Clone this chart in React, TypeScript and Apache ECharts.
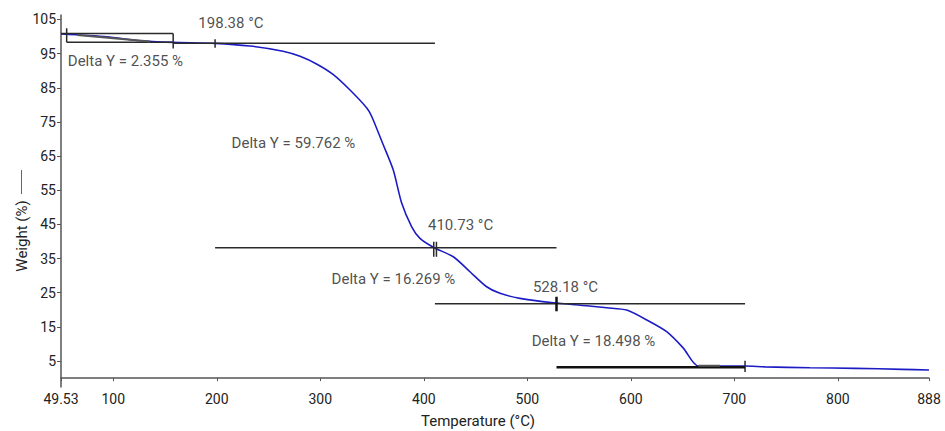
import React, { useEffect, useRef } from "react";
import * as echarts from "echarts";

// TGA curve: temperature (°C) and weight (%)
const temps = [
  49.53, 93.7, 125.8, 157.7, 198.3, 232.1, 264.0, 280.4, 296.8, 312.3, 328.7,
  345.1, 349.7, 360.9, 370.5, 378.6, 388.3, 396.3, 410.1, 428.5, 444.6, 460.7,
  473.6, 492.9, 525.1, 557.3, 576.7, 596.0, 618.5, 634.6, 650.7, 665.2, 710.3,
  729.6, 773.1, 816.6, 862.0, 888.0,
];
const weights = [
  100.73, 99.94, 98.76, 98.3, 98.0, 97.21, 95.7, 94.2, 91.9, 88.9, 84.33,
  79.0, 76.6, 68.23, 60.91, 51.25, 44.31, 40.92, 38.17, 35.53, 31.14, 26.75,
  24.82, 23.35, 22.07, 21.19, 20.6, 19.92, 16.5, 13.58, 8.78, 3.54, 3.54,
  3.3, 3.04, 2.86, 2.57, 2.37,
];

// axis ticks
const xTicks = [49.53, 100, 200, 300, 400, 500, 600, 700, 800, 888];
const yTicks = [5, 15, 25, 35, 45, 55, 65, 75, 85, 95, 105];
const xMin = 49.53;
const xMax = 888;
const yMin = -2.6;
const yMax = 106.3;

// annotation segments in data coordinates: [x1, y1, x2, y2]
const thinSegments = [
  [49.53, 100.9, 157.9, 100.9],
  [55.0, 102.4, 55.0, 98.3],
  [55.0, 98.3, 157.9, 98.3],
  [157.9, 100.9, 157.9, 96.5],
  [157.9, 98.0, 410.73, 98.0],
  [198.38, 99.2, 198.38, 96.7],
  [198.38, 38.2, 528.18, 38.2],
  [409.6, 39.9, 409.6, 35.5],
  [412.2, 39.9, 412.2, 35.5],
  [410.73, 21.8, 710.3, 21.8],
  [710.3, 5.1, 710.3, 1.8],
];
const thickSegments = [
  [528.18, 23.8, 528.18, 19.6],
  [528.18, 3.2, 710.3, 3.2],
];
const greySegments = [
  [65.0, 100.43, 135.5, 98.53],
  [665.2, 3.62, 686.2, 3.62],
];

// annotation texts
const noteTexts = [
  "198.38 °C",
  "Delta Y = 2.355 %",
  "Delta Y = 59.762 %",
  "410.73 °C",
  "Delta Y = 16.269 %",
  "528.18 °C",
  "Delta Y = 18.498 %",
];
const noteX = [213.7, 111.8, 274.1, 435.5, 370.7, 536.9, 563.9];
const noteY = [104.03, 92.82, 68.73, 44.81, 29.0, 26.66, 10.85];

const FONT = "Roboto";
const TEXT = "#222";

function segSeries(segs: number[][], color: string, width: number) {
  return segs.map((s) => ({
    type: "line",
    data: [
      [s[0], s[1]],
      [s[2], s[3]],
    ],
    symbol: "none",
    silent: true,
    lineStyle: { color, width },
    z: 5,
  }));
}

export default function App() {
  const ref = useRef<HTMLDivElement>(null);
  useEffect(() => {
    if (!ref.current) return;
    const chart = echarts.init(ref.current, null, { renderer: "svg" });
    const fmt = (v: number) => String(Math.round(v * 100) / 100);
    chart.setOption({
      animation: false,
      backgroundColor: "#fff",
      grid: { left: 61, right: 16, top: 15, bottom: 44, containLabel: false },
      xAxis: {
        type: "value",
        min: xMin,
        max: xMax,
        axisLine: { show: true, lineStyle: { color: "#555", width: 1.5 } },
        axisTick: {
          show: true,
          customValues: xTicks,
          length: 3,
          lineStyle: { color: "#555" },
        },
        axisLabel: {
          customValues: xTicks,
          formatter: fmt,
          fontSize: 14,
          fontFamily: FONT,
          color: TEXT,
          margin: 5,
          showMinLabel: true,
          showMaxLabel: true,
        },
        splitLine: { show: false },
      },
      yAxis: {
        type: "value",
        min: yMin,
        max: yMax,
        axisLine: { show: true, lineStyle: { color: "#555", width: 1.5 } },
        axisTick: {
          show: true,
          customValues: yTicks,
          length: 4,
          lineStyle: { color: "#555" },
        },
        axisLabel: {
          customValues: yTicks,
          formatter: fmt,
          fontSize: 14,
          fontFamily: FONT,
          color: TEXT,
          margin: 5,
        },
        splitLine: { show: false },
      },
      graphic: [
        {
          type: "text",
          x: 478,
          y: 421,
          style: {
            text: "Temperature (°C)",
            fontSize: 15,
            fontFamily: FONT,
            fill: TEXT,
            textAlign: "center",
            textVerticalAlign: "middle",
          },
        },
        {
          type: "text",
          x: 21.5,
          y: 236,
          rotation: Math.PI / 2,
          style: {
            text: "Weight (%)",
            fontSize: 15,
            fontFamily: FONT,
            fill: TEXT,
            textAlign: "center",
            textVerticalAlign: "middle",
          },
        },
        {
          type: "line",
          shape: { x1: 21.5, y1: 170, x2: 21.5, y2: 194 },
          style: { stroke: "#666", lineWidth: 1 },
        },
      ],
      series: [
        {
          type: "line",
          data: temps.map((t, i) => [t, weights[i]]),
          symbol: "none",
          smooth: 0.25,
          lineStyle: { color: "#1c1cc4", width: 1.6 },
          z: 3,
        },
        ...segSeries(thinSegments, "#2a2a2a", 1.5),
        ...segSeries(thickSegments, "#111", 2.5),
        ...segSeries(greySegments, "#555", 2),
        {
          type: "scatter",
          data: noteTexts.map((txt, i) => [noteX[i], noteY[i], txt]),
          symbolSize: 0,
          silent: true,
          z: 10,
          label: {
            show: true,
            position: "inside",
            formatter: (p: any) => p.data[2],
            fontSize: 15,
            fontFamily: FONT,
            color: TEXT,
            align: "center",
            verticalAlign: "middle",
          },
        },
      ],
    });
    return () => chart.dispose();
  }, []);
  return (
    <div
      ref={ref}
      style={{ position: "fixed", left: 0, top: 0, width: 945, height: 431 }}
    />
  );
}
